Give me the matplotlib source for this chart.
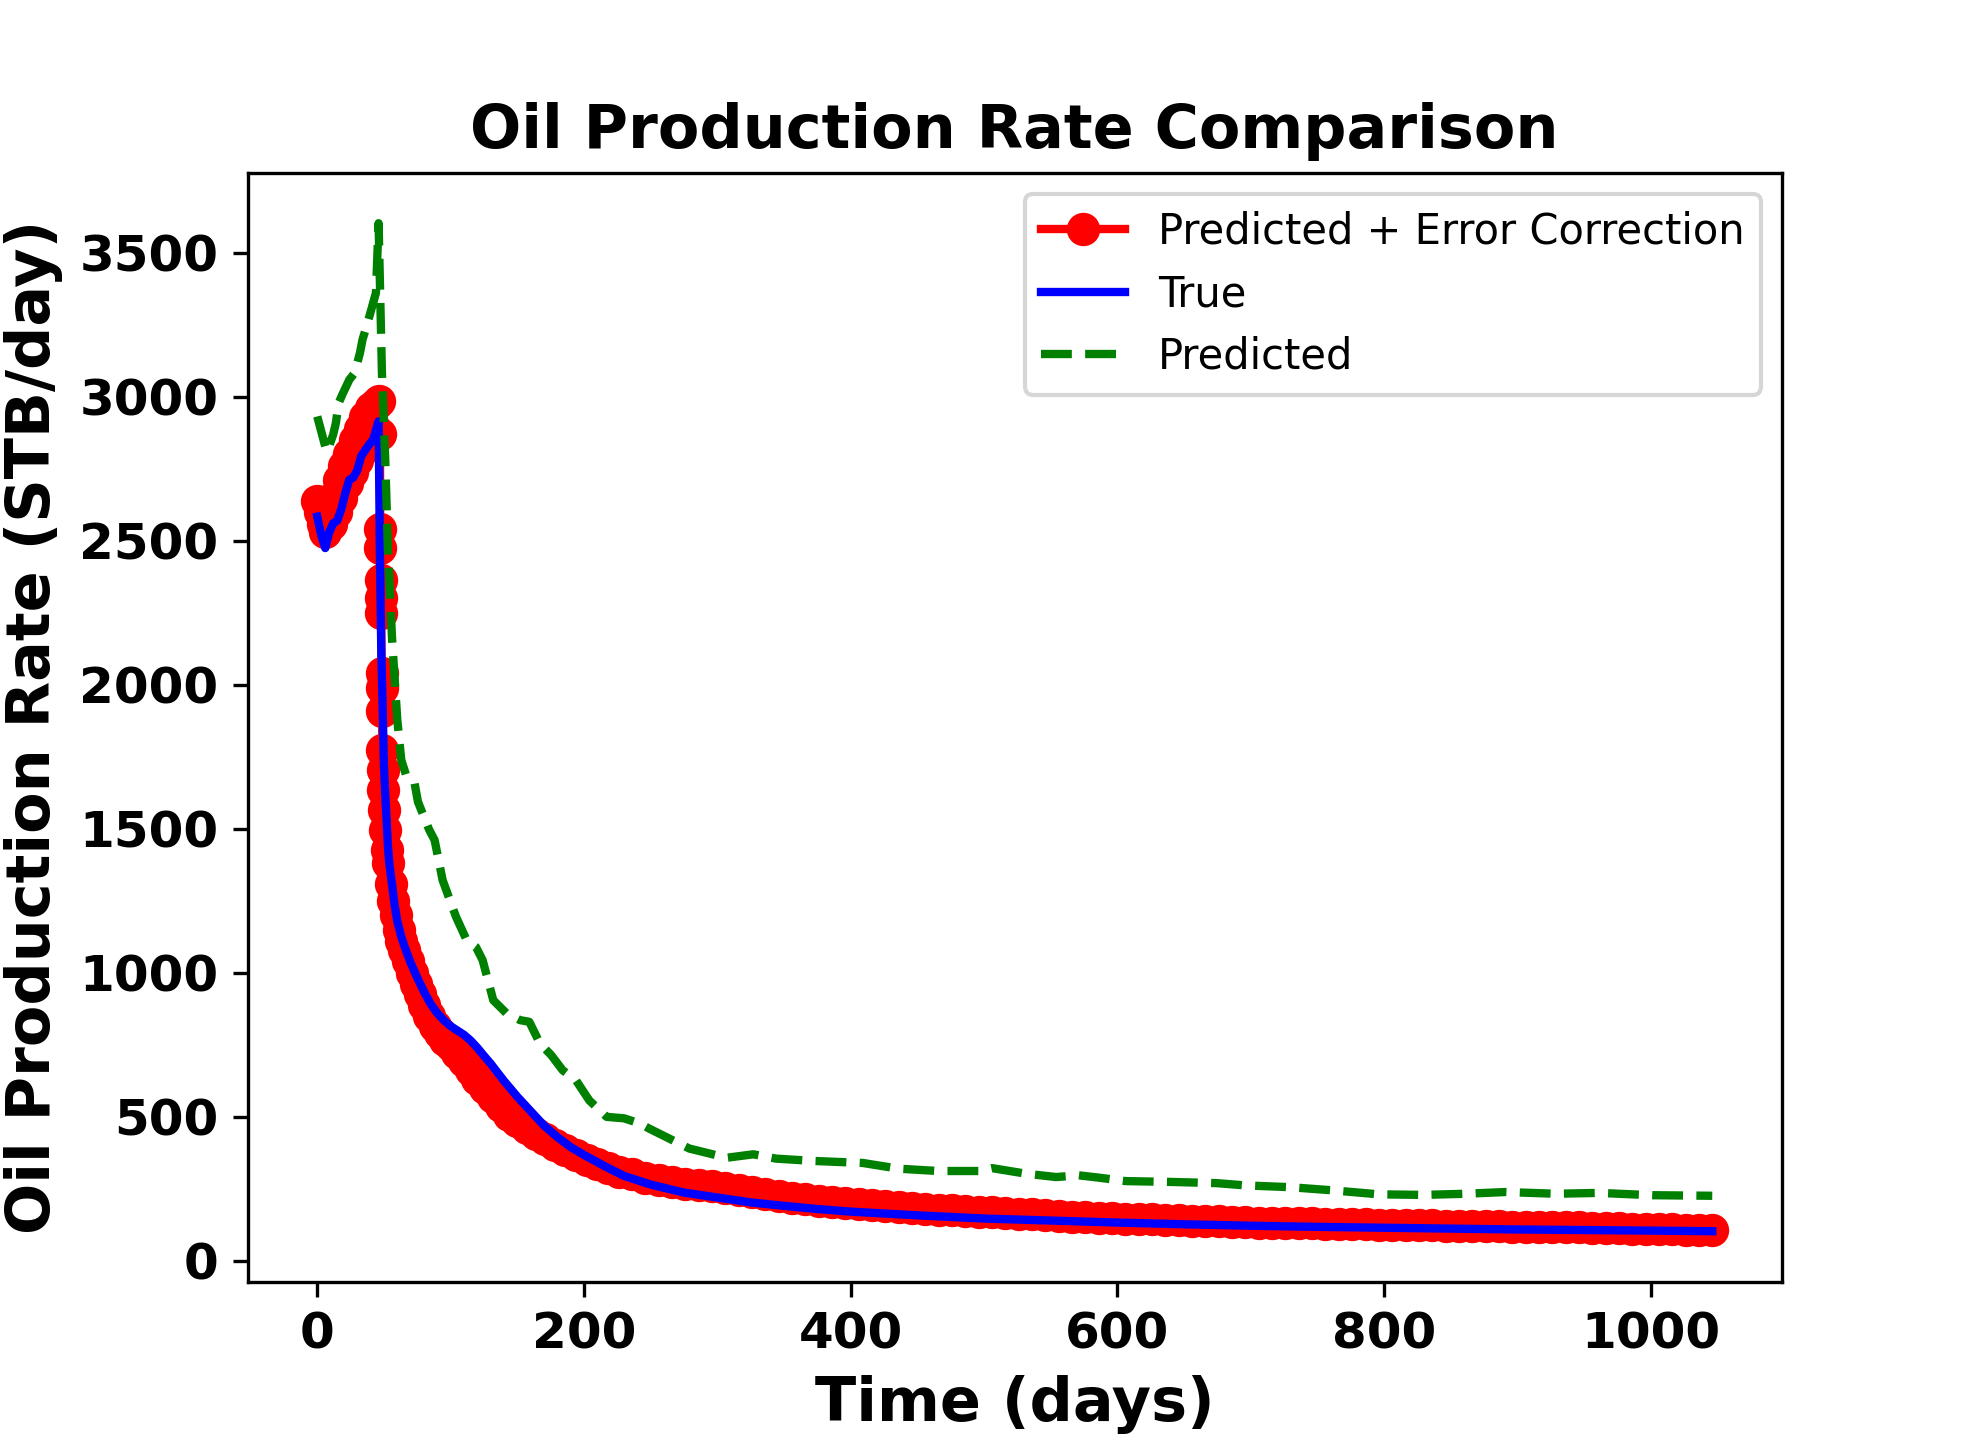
import numpy as np
import matplotlib
matplotlib.use('Agg')
import matplotlib.pyplot as plt

# True rate (coarse grid, smooth curve)
t_true = [0, 3, 6, 9, 12, 15, 18, 21, 24, 27,
          30, 33, 36, 39, 42, 45, 46, 47, 48, 49,
          50, 51, 52, 53, 54, 56, 58, 60, 63, 66,
          70, 75, 80, 85, 90, 95, 100, 105, 110, 115,
          120, 125, 130, 140, 150, 160, 170, 180, 190, 200,
          215, 230, 250, 275, 300, 325, 350, 375, 400, 450,
          500, 550, 600, 650, 700, 750, 800, 850, 900, 950,
          1000, 1046]
q_true = [2584, 2520, 2475, 2530, 2561, 2570, 2610, 2665, 2712, 2720,
          2745, 2795, 2815, 2835, 2852, 2900, 2915, 2450, 2121, 1930,
          1720, 1620, 1530, 1440, 1380, 1310, 1235, 1180, 1125, 1085,
          1035, 983, 935, 892, 860, 835, 815, 800, 785, 765,
          740, 712, 685, 625, 570, 520, 470, 430, 395, 368,
          330, 295, 265, 237, 220, 203, 191, 180, 171, 158,
          147, 140, 133, 127, 122, 118, 115, 112, 109, 107,
          105, 103]

# Predicted rate (model only)
t_pred = [0, 3, 7, 9, 12, 14, 16, 19, 24, 28,
          32, 34, 37, 40.5, 44, 46, 48.5, 51, 53, 56,
          60, 63, 67, 73, 75.5, 84, 88, 94, 104, 112,
          119, 124, 132, 142, 152, 159, 167, 175.5, 184, 194,
          204, 217, 230, 242, 249, 279, 307, 327, 344, 372,
          409, 436, 466, 496, 506, 531, 554, 571, 586, 606,
          641, 674, 696, 729, 761, 796, 829, 861, 891, 929,
          961, 1001, 1046]
q_pred = [2932, 2880, 2810, 2830, 2870, 2910, 2978, 3010, 3059, 3083,
          3152, 3200, 3245, 3303, 3361, 3603, 3083, 2781, 2469, 2168,
          1880, 1739, 1681, 1658, 1594, 1496, 1461, 1322, 1195, 1114,
          1090, 1044, 905, 859, 836, 830, 755, 714, 662, 627,
          557, 500, 495, 477, 459, 390, 358, 370, 355, 347,
          340, 320, 312, 312, 322, 303, 291, 297, 289, 277,
          274, 270, 262, 256, 245, 231, 229, 233, 239, 233,
          236, 228, 226]

# Predicted + error correction (simulator time steps)
t_corr_early = [0, 2, 4, 6, 8, 10, 12, 14, 16, 18,
                20, 22, 24, 26, 28, 30, 32, 34, 36, 38,
                40, 42, 44, 46,
                47.0, 47.2, 47.4, 47.6, 47.8, 48.0, 48.2, 48.4, 48.6, 48.8,
                49.0, 49.5, 50, 51, 52, 53, 55, 57, 59, 61,
                63, 65, 68, 71, 74, 77, 80, 84, 88, 92,
                96, 100, 105, 110, 115, 120, 126, 132, 138, 144,
                150, 157, 164, 171, 178, 186, 194, 202, 210, 218,
                226]
q_corr_early = [2640, 2600, 2560, 2530, 2590, 2560, 2650, 2600, 2710, 2650,
                2760, 2700, 2800, 2740, 2850, 2780, 2890, 2820, 2930, 2860,
                2960, 2900, 2975, 2985,
                2870, 2540, 2475, 2365, 2300, 2250, 2040, 1990, 1910, 1775,
                1705, 1635, 1565, 1496, 1426, 1380, 1310, 1250, 1200, 1150,
                1110, 1080, 1040, 1000, 960, 925, 890, 850, 815, 790,
                768, 748, 722, 693, 662, 632, 600, 568, 538, 508,
                485, 462, 442, 422, 404, 385, 366, 350, 336, 322,
                310]
t_corr_late = np.arange(236, 1047, 10)
q_corr_late = [301, 289, 281, 274, 266, 263, 259, 253, 245, 239,
               232, 225, 219, 214, 209, 204, 200, 197, 194, 190,
               187, 184, 181, 178, 176, 173, 171, 168, 166, 164,
               161, 159, 157, 154, 152, 150, 148, 147, 145, 144,
               142, 141, 140, 138, 137, 136, 134, 133, 132, 132,
               131, 130, 129, 128, 127, 127, 126, 125, 124, 123,
               123, 122, 121, 121, 120, 120, 119, 118, 117, 117,
               116, 116, 115, 115, 114, 112, 112, 111, 109, 108,
               107, 106]

t_corr = np.concatenate([t_corr_early, t_corr_late])
q_corr = np.concatenate([q_corr_early, q_corr_late])

plt.figure(figsize=(6.6, 4.8), dpi=300)
plt.plot(t_corr, q_corr, 'ro-', linewidth=2, markersize=7,
         label='Predicted + Error Correction')
plt.plot(t_true, q_true, 'b-', linewidth=2, label='True')
plt.plot(t_pred, q_pred, 'g--', linewidth=2, label='Predicted')

plt.title('Oil Production Rate Comparison', fontsize=14.5, fontweight='bold')
plt.xlabel('Time (days)', fontsize=14.5, fontweight='bold')
plt.ylabel('Oil Production Rate (STB/day)', fontsize=14.5, fontweight='bold')
plt.xticks(fontsize=12, fontweight='bold')
plt.yticks(fontsize=12, fontweight='bold')
plt.legend(loc='upper right', fontsize=10)

plt.savefig('out.png', dpi=300)
